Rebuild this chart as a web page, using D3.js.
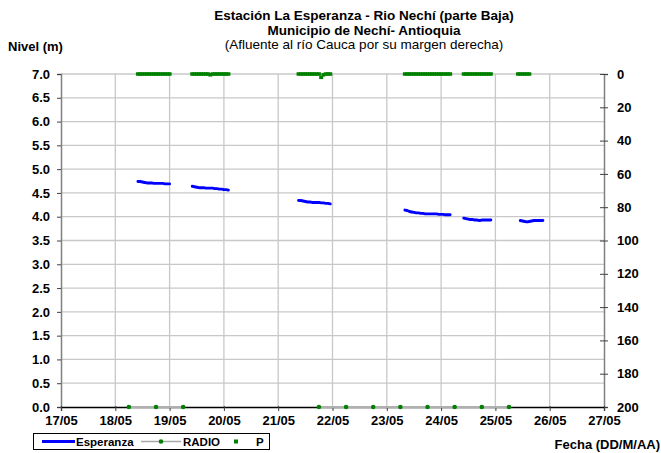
<!DOCTYPE html>
<html><head><meta charset="utf-8">
<script src="https://cdn.jsdelivr.net/npm/d3@7"></script>
<style>
body{margin:0;background:#fff;}
svg{display:block;font-family:"Liberation Sans",Arial,sans-serif;}
</style></head>
<body><svg id="c" width="661" height="453"></svg>
<script>
// ---------- DATA ----------
const titleLines = ["Estación La Esperanza - Rio Nechí  (parte Baja)", "Municipio de Nechí- Antioquia", "(Afluente al río Cauca por su margen derecha)"];
const xTickLabels = ["17/05","18/05","19/05","20/05","21/05","22/05","23/05","24/05","25/05","26/05","27/05"];
const leftTicks = [0,0.5,1,1.5,2,2.5,3,3.5,4,4.5,5,5.5,6,6.5,7];
const rightTicks = [0,20,40,60,80,100,120,140,160,180,200];
const stepHours = 1;
// Esperanza level (m), hourly readings per continuous segment
const espStarts = ["2009-05-18T10:00","2009-05-19T10:00","2009-05-21T09:00","2009-05-23T08:00","2009-05-24T10:00","2009-05-25T11:00"];
const espValues = [
  [4.74,4.74,4.73,4.72,4.71,4.71,4.71,4.70,4.70,4.70,4.70,4.70,4.69,4.69,4.69],
  [4.64,4.63,4.62,4.61,4.61,4.61,4.60,4.60,4.60,4.60,4.59,4.59,4.58,4.58,4.57,4.57,4.56],
  [4.34,4.34,4.33,4.32,4.31,4.31,4.30,4.30,4.30,4.30,4.29,4.29,4.28,4.28,4.27],
  [4.14,4.13,4.11,4.10,4.09,4.08,4.08,4.07,4.07,4.06,4.06,4.06,4.06,4.06,4.06,4.05,4.05,4.05,4.04,4.04,4.04],
  [3.97,3.96,3.95,3.94,3.94,3.93,3.93,3.92,3.93,3.93,3.93,3.93,3.93],
  [3.92,3.91,3.90,3.89,3.90,3.91,3.92,3.92,3.92,3.92,3.92]
];
// Precipitation P (mm), hourly per segment
const pStarts = ["2009-05-18T10:00","2009-05-19T10:00","2009-05-21T09:00","2009-05-23T08:00","2009-05-24T10:00","2009-05-25T10:00"];
const pValues = [
  [0,0,0,0,0,0,0,0,0,0,0,0,0,0,0],
  [0,0,0,0,0,0,0,0,0.5,0,0,0,0,0,0,0,0],
  [0,0,0,0,0,0,0,0,0,0,2,0.5,0,0,0],
  [0,0,0,0,0,0,0,0,0,0,0,0,0,0,0,0,0,0,0,0,0],
  [0,0,0,0,0,0,0,0,0,0,0,0,0],
  [0,0,0,0,0,0]
];
// RADIO readings (m); null = break in the line
const radioTimes = ["2009-05-18T06:00","2009-05-18T18:00","2009-05-19T06:00",null,"2009-05-21T18:00","2009-05-22T06:00","2009-05-22T18:00","2009-05-23T06:00","2009-05-23T18:00","2009-05-24T06:00","2009-05-24T18:00","2009-05-25T06:00"];
const radioValues = [0,0,0,null,0,0,0,0,0,0,0,0];
const legendItems = ["Esperanza","RADIO","P"];

// ---------- CHART ----------
const svg = d3.select("#c");
const parse = d3.timeParse("%Y-%m-%dT%H:%M");
const x = d3.scaleTime().domain([new Date(2009,4,17), new Date(2009,4,27)]).range([61,604]);
const yL = d3.scaleLinear().domain([0,7]).range([407,74]);
const yR = d3.scaleLinear().domain([0,200]).range([74,407]);
const xTicks = d3.range(xTickLabels.length).map(i=>new Date(2009,4,17+i));

// grid
svg.append("g").selectAll("line").data(leftTicks.slice(1)).join("line")
  .attr("x1",61).attr("x2",604).attr("y1",d=>yL(d)).attr("y2",d=>yL(d))
  .attr("stroke","#c8c8c8").attr("stroke-width",1.3);
svg.append("g").selectAll("line").data(xTicks.slice(1,-1)).join("line")
  .attr("x1",d=>x(d)).attr("x2",d=>x(d)).attr("y1",74).attr("y2",407)
  .attr("stroke","#c8c8c8").attr("stroke-width",1.3);

// axes
const axL = svg.append("g").attr("transform","translate(61,0)")
  .call(d3.axisLeft(yL).tickValues(leftTicks).tickFormat(d3.format(".1f")).tickSize(4).tickPadding(7));
const axR = svg.append("g").attr("transform","translate(604,0)")
  .call(d3.axisRight(yR).tickValues(rightTicks).tickSize(4).tickPadding(9));
axR.selectAll(".tick line").attr("x1",-4);
const axB = svg.append("g").attr("transform","translate(0,407)")
  .call(d3.axisBottom(x).tickValues(xTicks).tickFormat((d,i)=>xTickLabels[i]).tickSize(4).tickPadding(5));
axB.selectAll(".tick line").attr("y1",-1);
[axL,axR,axB].forEach(a=>{
  a.selectAll("text").attr("font-family","Liberation Sans, Arial, sans-serif").attr("font-size",13).attr("font-weight","bold").attr("fill","#000");
});
axL.select(".domain").attr("stroke","#808080").attr("stroke-width",1.5);
axR.select(".domain").attr("stroke","#808080").attr("stroke-width",1.5);
axL.selectAll(".tick line").attr("stroke","#404040");
axR.selectAll(".tick line").attr("stroke","#404040");
axB.select(".domain").attr("stroke","#000").attr("stroke-width",1.3);
axB.selectAll(".tick line").attr("stroke","#404040");

// RADIO
const radio = radioTimes.map((t,i)=>({t:t?parse(t):null,v:radioValues[i]}));
svg.append("path").datum(radio)
  .attr("d",d3.line().defined(d=>d.v!==null).x(d=>x(d.t)).y(d=>yL(d.v)))
  .attr("fill","none").attr("stroke","#b0b0b0").attr("stroke-width",2);
svg.append("g").selectAll("circle").data(radio.filter(d=>d.v!==null)).join("circle")
  .attr("cx",d=>x(d.t)).attr("cy",d=>yL(d.v)).attr("r",2.3).attr("fill","#008000");

// Esperanza
const line = d3.line().x(d=>x(d.t)).y(d=>yL(d.v));
espStarts.forEach((s,k)=>{
  const t0 = parse(s);
  const pts = espValues[k].map((v,i)=>({t:d3.timeHour.offset(t0,i*stepHours),v}));
  svg.append("path").datum(pts).attr("d",line)
    .attr("fill","none").attr("stroke","#0000ff").attr("stroke-width",2.9)
    .attr("stroke-linejoin","round").attr("stroke-linecap","round");
});

// P
pStarts.forEach((s,k)=>{
  const t0 = parse(s);
  const pts = pValues[k].map((v,i)=>({t:d3.timeHour.offset(t0,i*stepHours),v}));
  svg.append("g").selectAll("rect").data(pts).join("rect")
    .attr("x",d=>x(d.t)-2).attr("y",d=>yR(d.v)-1.75).attr("width",4).attr("height",3.5)
    .attr("fill","#008000");
});

// titles
const tt = svg.append("g").attr("text-anchor","middle").attr("font-size",13.5);
titleLines.forEach((s,i)=>{
  tt.append("text").attr("x",364).attr("y",20+i*14.5).attr("font-weight",i<2?"bold":"normal").text(s);
});
svg.append("text").attr("x",8).attr("y",51).attr("font-size",13).attr("font-weight","bold").text("Nivel (m)");
svg.append("text").attr("x",660).attr("y",449).attr("text-anchor","end").attr("font-size",13).attr("font-weight","bold").text("Fecha (DD/M/AA)");

// legend
const lg = svg.append("g");
lg.append("rect").attr("x",33.5).attr("y",433.5).attr("width",236).attr("height",16).attr("fill","#fff").attr("stroke","#000");
lg.append("line").attr("x1",42).attr("x2",75).attr("y1",441.5).attr("y2",441.5).attr("stroke","#0000ff").attr("stroke-width",2.9);
lg.append("line").attr("x1",141).attr("x2",181).attr("y1",441.5).attr("y2",441.5).attr("stroke","#a8a8a8").attr("stroke-width",1.5);
lg.append("circle").attr("cx",161).attr("cy",441.5).attr("r",2.3).attr("fill","#008000");
lg.append("rect").attr("x",234).attr("y",439.5).attr("width",4).attr("height",4).attr("fill","#008000");
const lx = [76,183,256];
legendItems.forEach((s,i)=>{
  lg.append("text").attr("x",lx[i]).attr("y",446).attr("font-size",11.5).attr("font-weight","bold").text(s);
});
</script></body></html>
